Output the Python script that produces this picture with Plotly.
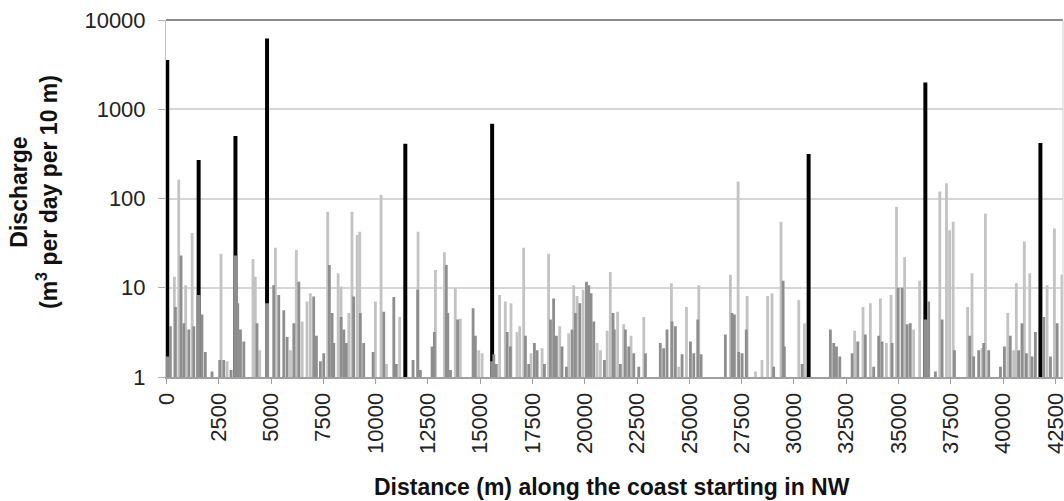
import plotly.graph_objects as go

# ---- data (distance in m, discharge in m3/day per 10 m) ----
black_x = [40, 1540, 3300, 4810, 11420, 15570, 30700, 36280, 41780]
black_v = [3560, 270, 500, 6200, 410, 690, 316, 2000, 420]

light_x = [380, 590, 920, 1230, 2610, 2900, 4140, 4250, 4460, 5210, 5930, 6210, 6490, 6720, 6880,
           7710, 8210, 8350, 8720, 8870, 9120, 9240, 9990, 10260, 10520, 11150, 12030, 12860, 13290, 13810,
           14050, 14930, 15090, 15930, 16200, 16470, 16760, 16890, 17080, 17430, 17960, 18270, 18800, 19230,
           19470, 19630, 19920, 20590, 20750, 21070, 21220,
           21570, 21860, 22210, 22820, 24140, 24490, 24860, 25450, 26960, 27330, 27760, 28160, 28470,
           28740, 28950, 29380, 30230, 30500, 32900, 33300, 33650, 34130, 34420, 34640, 34900, 35290, 35720,
           36010, 36970, 37290, 37440, 37610, 38300, 38510, 38990, 39150, 40220, 40500, 40630, 41010, 41270,
           42100, 42450, 42810]
light_v = [13.3, 162, 10.7, 41, 24, 1.5, 21, 13.3, 2, 28, 2, 26.5, 4.2, 7, 8.7,
           71, 14.5, 10.3, 5.2, 71, 39, 42.5, 7, 110, 1.4, 4.7, 42.5, 15.8, 25, 10,
           4.5, 2, 1.85, 8.3, 7, 6.7, 3.2, 3.7, 28, 1.85, 2.1, 24, 3.7, 3.1,
           10.7, 8.1, 9.5, 2.4, 2, 3.3, 15,
           5.4, 3.9, 2.9, 4.7, 11.2, 1.3, 6.1, 10.7, 14, 155, 8.1, 1.15, 1.55,
           8.1, 8.7, 55, 7.3, 4, 3.3, 6.1, 6.7, 7.6, 2.4, 8.3, 81, 22, 3.4,
           12, 120, 148, 44, 55, 6.1, 14.5, 2.1, 68, 5.2, 2, 11.2, 33, 14.5,
           10.7, 46, 14]

dark_x = [40, 190, 430, 700, 830, 1070, 1310, 1540, 1700, 1860, 2180, 2550, 2740, 3090, 3300, 3410, 3540,
          3700, 4330, 4810, 5130, 5370, 5610, 5770, 6090, 6330, 7040,
          7170, 7360, 7520, 7790, 7920, 8000, 8350, 8480, 8600, 8950, 9270, 9430, 9880, 10390, 10870, 10990,
          11790, 12010, 12140, 12700, 12810, 13380, 13450, 13580, 13920,
          14660, 14770, 15570, 15650, 15770, 16290, 16440, 17160, 17320, 17590, 17720, 18070, 18360, 18510,
          18640, 18910, 19120, 19390, 19550, 19760, 20080, 20190, 20300, 20430, 20940, 21350,
          21410, 21700, 21940, 22100, 22340, 22580, 22900, 23610, 23770, 23930, 24170, 24330, 24650, 25050,
          25210, 25400, 25560, 26720, 27040, 27150, 27360, 27520, 27720,
          29030, 29480, 29540, 30390, 31740, 31900, 32030, 32190, 32780, 33050, 33410, 33810, 34050, 34210,
          34690, 34980, 35170, 35410, 35560,
          36280, 36440, 36760, 37080, 37670, 38400, 38590, 38830, 39070, 39310, 39870, 40060, 40340, 40740,
          40900, 41110, 41380, 41540, 41940, 42260, 42580]
dark_v = [1.7, 3.7, 6.1, 23, 4, 3.4, 3.7, 8.3, 5, 1.9, 1.15, 1.55, 1.55, 1.2, 23, 6.7, 3.4,
          2.5, 4, 6.7, 10.7, 8.3, 5.6, 2.8, 4, 11.7, 8,
          2.9, 1.5, 1.85, 18, 5.2, 2.4, 4.7, 3.4, 2.4, 8, 5.2, 2.4, 1.9, 5.4, 7.9, 1.4,
          1.55, 9.5, 1.2, 2.2, 3.2, 18, 5.2, 1.2, 4.4,
          5.9, 2.9, 1.5, 1.8, 1.4, 3.2, 2.2, 2.9, 1.4, 2.4, 2, 1.4, 4.4, 7.6,
          2.9, 2.2, 1.3, 3.4, 5.2, 6.7, 11.7, 10.7, 8.7, 4.2, 1.55, 5.2,
          3.4, 1.4, 3.4, 2.2, 1.85, 1.3, 1.85, 2.4, 2.1, 3.4, 4.2, 3.7, 1.8, 2.5,
          1.85, 4.4, 1.8, 3, 5.2, 5, 1.9, 1.85, 3.4,
          1.3, 12, 2.2, 1.4, 3.4, 2.4, 2.2, 1.7, 1.85, 2.5, 3, 1.3, 2.9, 2.5,
          2.4, 10, 10, 3.9, 4,
          4.4, 7, 1.15, 4.4, 2, 2.9, 1.7, 2, 2.4, 2, 1.3, 2.2, 2.9, 2,
          4, 1.85, 1.7, 3.2, 4.7, 1.7, 4]

tick_vals = list(range(0, 42501, 2500))
y_ticks = [1, 10, 100, 1000, 10000]

# ---- styling ----
GRAY_W = 135
BLACK_W = 190
dark_w = [BLACK_W if x in black_x else GRAY_W for x in dark_x]

fig = go.Figure()
fig.add_trace(go.Bar(x=black_x, y=black_v, width=BLACK_W, marker=dict(color="#000000", line=dict(width=0))))
fig.add_trace(go.Bar(x=light_x, y=light_v, width=GRAY_W, marker=dict(color="#c3c3c3", line=dict(width=0))))
fig.add_trace(go.Bar(x=dark_x, y=dark_v, width=dark_w, marker=dict(color="#8e8e8e", line=dict(width=0))))

tick_font = dict(family="Liberation Sans, Arial, sans-serif", size=22, color="#222222")
title_font = dict(family="Liberation Sans, Arial, sans-serif", size=23, color="#111111")

fig.update_layout(
    width=1064, height=501,
    margin=dict(l=166, r=1, t=20, b=124),
    paper_bgcolor="white", plot_bgcolor="white",
    barmode="overlay", showlegend=False,
    xaxis=dict(
        range=[-20, 42860], tickvals=tick_vals, ticktext=[str(v) for v in tick_vals],
        tickangle=-90, tickfont=tick_font, showgrid=False, zeroline=False,
        showline=True, linecolor="#a0a0a0", linewidth=2,
        ticks="outside", ticklen=5, tickcolor="#a0a0a0", tickwidth=1,
        ticklabeloverflow="allow", automargin=False,
    ),
    yaxis=dict(
        type="log", range=[0, 4], tickvals=y_ticks, ticktext=[str(v) for v in y_ticks],
        tickfont=tick_font, showgrid=True, gridcolor="#d6d6d6", gridwidth=2,
        zeroline=False, showline=True, linecolor="#c4c4c4", linewidth=1,
        ticks="outside", ticklen=7, tickcolor="#b0b0b0", ticklabelstandoff=8,
        automargin=False,
    ),
    shapes=[
        dict(type="line", xref="paper", yref="paper", x0=0, x1=1, y0=1, y1=1,
             line=dict(color="#8c8c8c", width=2)),
        dict(type="line", xref="paper", yref="paper", x0=1, x1=1, y0=0, y1=1,
             line=dict(color="#d0d0d0", width=1)),
    ],
    annotations=[
        dict(text="<b>Discharge<br>(m<sup>3</sup> per day per 10 m)</b>", xref="paper", yref="paper",
             x=(34 - 166) / 897, y=(377 - 192) / 357, xanchor="center", yanchor="middle",
             textangle=-90, showarrow=False, font=title_font),
        dict(text="<b>Distance (m) along the coast starting in NW</b>", xref="paper", yref="paper",
             x=(612 - 166) / 897, y=(377 - 487) / 357, xanchor="center", yanchor="middle",
             showarrow=False, font=title_font),
    ],
)

fig.write_html("out.html")
